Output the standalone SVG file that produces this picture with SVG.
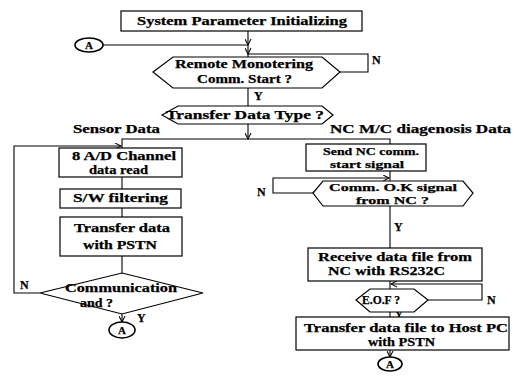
<svg xmlns="http://www.w3.org/2000/svg" width="513" height="385" viewBox="0 0 513 385">
<style>
.s{fill:#fff;stroke:#000;stroke-width:1.2}
.c{fill:#fff;stroke:#000;stroke-width:1.6}
.l{fill:none;stroke:#000;stroke-width:1.1}
text{font-family:"Liberation Serif","Times New Roman",serif;font-weight:bold;font-size:12px;fill:#000;stroke:#000;stroke-width:0.25}
.m{text-anchor:middle;font-size:11px}
.t{font-size:11px}
</style>
<defs>
<marker id="ah" viewBox="0 0 8 8" refX="7" refY="4" markerWidth="7" markerHeight="7" markerUnits="userSpaceOnUse" orient="auto">
<path d="M0,0.5 L7,4 L0,7.5" fill="none" stroke="#000" stroke-width="1.2"/>
</marker>
</defs>
<rect width="513" height="385" fill="#fff"/>
<g id="connectors">
<path class="l" d="M248,31 V45" marker-end="url(#ah)"/>
<path class="l" d="M248,45 V54" marker-end="url(#ah)"/>
<path class="l" d="M248,54 V57"/>
<path class="l" d="M103,45 H248"/>
<path class="l" d="M340,72 H368 V54 H248"/>
<path class="l" d="M248,88 V106"/>
<path class="l" d="M248,124 V139" marker-end="url(#ah)"/>
<path class="l" d="M122,148 V139 H390 V144"/>
<path class="l" d="M40,293 H14 V146 H121" marker-end="url(#ah)"/>
<path class="l" d="M122,177 V189"/>
<path class="l" d="M122,208 V217"/>
<path class="l" d="M122,256 V273"/>
<path class="l" d="M122,314 V322" marker-end="url(#ah)"/>
<path class="l" d="M390,171 V181"/>
<path class="l" d="M313,193 H273 V178 H389" marker-end="url(#ah)"/>
<path class="l" d="M390,206 V248"/>
<path class="l" d="M390,281 V289"/>
<path class="l" d="M428,300 H482 V284 H391" marker-end="url(#ah)"/>
<path class="l" d="M390,312 V317"/>
<path class="l" d="M390,350 V357" marker-end="url(#ah)"/>
<text x="372" y="64">N</text>
<text x="254" y="100">Y</text>
<text x="20" y="289">N</text>
<text x="137" y="322">Y</text>
<text x="257" y="196">N</text>
<text x="394" y="231">Y</text>
<text x="487" y="304">N</text>
<text class="t" x="395" y="318">Y</text>
<text x="73" y="133" textLength="87" lengthAdjust="spacingAndGlyphs">Sensor Data</text>
<text x="330" y="133" textLength="181" lengthAdjust="spacingAndGlyphs">NC M/C diagenosis Data</text>
</g>
<g id="n_init">
<rect class="s" x="121" y="11" width="241" height="20"/>
<text x="137" y="25" textLength="210" lengthAdjust="spacingAndGlyphs">System Parameter Initializing</text>
</g>
<g id="n_a1">
<ellipse class="c" cx="89" cy="45" rx="14" ry="7"/>
<text class="m" x="89" y="49">A</text>
</g>
<g id="n_remote">
<polygon class="s" points="153,72 173,57 322,57 340,72 322,88 173,88"/>
<text x="175" y="68" textLength="138" lengthAdjust="spacingAndGlyphs">Remote Monotering</text>
<text x="197" y="83" textLength="95" lengthAdjust="spacingAndGlyphs">Comm. Start ?</text>
</g>
<g id="n_type">
<polygon class="s" points="162,115 178,106 322,106 333,115 322,124 178,124"/>
<text x="166" y="119" textLength="158" lengthAdjust="spacingAndGlyphs">Transfer Data Type ?</text>
</g>
<g id="n_ad">
<rect class="s" x="59" y="148" width="123" height="29"/>
<text x="72" y="160" textLength="104" lengthAdjust="spacingAndGlyphs">8 A/D Channel</text>
<text x="89" y="174" textLength="59" lengthAdjust="spacingAndGlyphs">data read</text>
</g>
<g id="n_sw">
<rect class="s" x="60" y="189" width="121" height="19"/>
<text x="73" y="202" textLength="95" lengthAdjust="spacingAndGlyphs">S/W filtering</text>
</g>
<g id="n_tx">
<rect class="s" x="60" y="217" width="122" height="39"/>
<text x="74" y="232" textLength="96" lengthAdjust="spacingAndGlyphs">Transfer data</text>
<text x="83" y="249" textLength="74" lengthAdjust="spacingAndGlyphs">with PSTN</text>
</g>
<g id="n_end">
<polygon class="s" points="40,293 122,273 203,293 122,314"/>
<text x="65" y="292" textLength="112" lengthAdjust="spacingAndGlyphs">Communication</text>
<text x="80" y="307" textLength="33" lengthAdjust="spacingAndGlyphs">and ?</text>
</g>
<g id="n_a2">
<ellipse class="c" cx="122" cy="330" rx="13" ry="8"/>
<text class="m" x="122" y="334">A</text>
</g>
<g id="n_send">
<rect class="s" x="306" y="144" width="120" height="27"/>
<text class="t" x="323" y="155" textLength="96" lengthAdjust="spacingAndGlyphs">Send NC comm.</text>
<text class="t" x="330" y="168" textLength="74" lengthAdjust="spacingAndGlyphs">start signal</text>
</g>
<g id="n_ok">
<polygon class="s" points="313,193 323,181 463,181 473,193 463,206 323,206"/>
<text class="t" x="329" y="191" textLength="128" lengthAdjust="spacingAndGlyphs">Comm. O.K signal</text>
<text class="t" x="356" y="204" textLength="73" lengthAdjust="spacingAndGlyphs">from NC ?</text>
</g>
<g id="n_recv">
<rect class="s" x="308" y="248" width="174" height="33"/>
<text x="318" y="261" textLength="154" lengthAdjust="spacingAndGlyphs">Receive data file from</text>
<text x="328" y="275" textLength="117" lengthAdjust="spacingAndGlyphs">NC with RS232C</text>
</g>
<g id="n_eof">
<polygon class="s" points="356,300 370,289 414,289 428,300 414,312 370,312"/>
<text x="362" y="304" textLength="38" lengthAdjust="spacingAndGlyphs">E.O.F ?</text>
</g>
<g id="n_host">
<rect class="s" x="296" y="317" width="213" height="33"/>
<text x="304" y="332" textLength="204" lengthAdjust="spacingAndGlyphs">Transfer data file to Host PC</text>
<text x="368" y="346" textLength="67" lengthAdjust="spacingAndGlyphs">with PSTN</text>
</g>
<g id="n_a3">
<ellipse class="c" cx="390" cy="364" rx="12" ry="7"/>
<text class="m" x="390" y="368">A</text>
</g>
</svg>
